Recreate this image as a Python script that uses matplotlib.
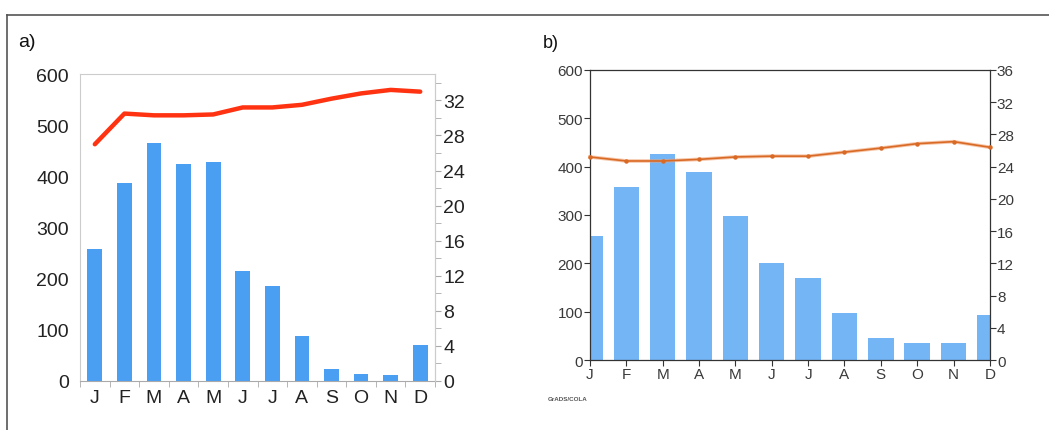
import numpy as np
import matplotlib
matplotlib.use("Agg")
from matplotlib import pyplot as plt
from matplotlib.lines import Line2D

months = ['J', 'F', 'M', 'A', 'M', 'J', 'J', 'A', 'S', 'O', 'N', 'D']

# panel a) observed
rain_a = [259, 388, 466, 424, 429, 215, 185, 88, 23, 13, 11, 70]
temp_a = [27.0, 30.5, 30.3, 30.3, 30.4, 31.2, 31.2, 31.5, 32.2, 32.8, 33.2, 33.0]

# panel b) model (GrADS)
rain_b = [257, 357, 427, 388, 297, 201, 169, 98, 46, 36, 36, 93]
temp_b = [25.2, 24.7, 24.7, 24.9, 25.2, 25.3, 25.3, 25.8, 26.3, 26.85, 27.1, 26.4]

x = np.arange(12)

fig = plt.figure(figsize=(10.49, 4.31), dpi=100)
plt.rcParams['font.family'] = ['Liberation Sans', 'DejaVu Sans']

# outer frame (top and left only)
fig.add_artist(Line2D([0.007, 1.0], [0.9636, 0.9636], color='#555555', lw=1.2))
fig.add_artist(Line2D([0.007, 0.007], [0.0, 0.9636], color='#555555', lw=1.2))

# ---- a) ----
ax = fig.add_axes([0.0763, 0.1137, 0.3384, 0.712])
ax.bar(x, rain_a, width=0.5, color='#4a9ff2')
ax.set_xlim(-0.5, 11.5)
ax.set_ylim(0, 600)
ax.set_yticks(range(0, 601, 100))
ax.set_xticks(x)
ax.set_xticklabels(months)
ax.set_xticks(np.arange(-0.5, 12, 1), minor=True)
ax.tick_params(axis='x', which='major', length=0, pad=6, labelsize=14, labelcolor='#222222')
ax.tick_params(axis='x', which='minor', length=4, color='#aaaaaa', direction='out')
ax.tick_params(axis='y', length=0, pad=8, labelsize=14, labelcolor='#222222')
for s in ['left', 'top', 'right']:
    ax.spines[s].set_color('#cccccc')
ax.spines['bottom'].set_color('#aaaaaa')

ax2 = ax.twinx()
ax2.plot(x, temp_a, color='#ff3311', lw=3.2, solid_capstyle='round')
ax2.set_ylim(0, 35)
ax2.set_yticks(range(0, 33, 4))
ax2.set_yticks(range(2, 35, 4), minor=True)
ax2.tick_params(axis='y', which='major', length=4, color='#aaaaaa', pad=2, labelsize=14, labelcolor='#222222')
ax2.tick_params(axis='y', which='minor', length=4, color='#aaaaaa')
for s in ax2.spines.values():
    s.set_visible(False)
ax2.spines['right'].set_visible(True)
ax2.spines['right'].set_color('#cccccc')

fig.text(0.017, 0.902, 'a)', fontsize=14, color='#111111', va='center')

# ---- b) ----
bx = fig.add_axes([0.5624, 0.1624, 0.3813, 0.673])
bx.bar(x, rain_b, width=0.7, color='#74b5f5')
bx.set_xlim(0, 11)
bx.set_ylim(0, 600)
bx.set_yticks(range(0, 601, 100))
bx.set_xticks(x)
bx.set_xticklabels(months)
bx.tick_params(length=4, width=0.8, color='#333333', labelsize=11, labelcolor='#3a3a3a', pad=1)
for s in bx.spines.values():
    s.set_color('#333333')
    s.set_linewidth(0.9)

bx2 = bx.twinx()
bx2.plot(x, temp_b, color='#f0a070', lw=2.6, alpha=0.6, clip_on=False)
bx2.plot(x, temp_b, color='#d96a25', lw=1.2, marker='o', ms=2.2, clip_on=False)
bx2.set_ylim(0, 36)
bx2.set_yticks(range(0, 37, 4))
bx2.tick_params(length=4, width=0.8, color='#333333', labelsize=11, labelcolor='#3a3a3a', pad=1)
for s in bx2.spines.values():
    s.set_visible(False)

fig.text(0.517, 0.9, 'b)', fontsize=13, color='#111111', va='center')
fig.text(0.5225, 0.072, 'GrADS/COLA', fontsize=4.5, fontweight='bold', color='#555555', va='center')

fig.savefig('out.png', dpi=100)
